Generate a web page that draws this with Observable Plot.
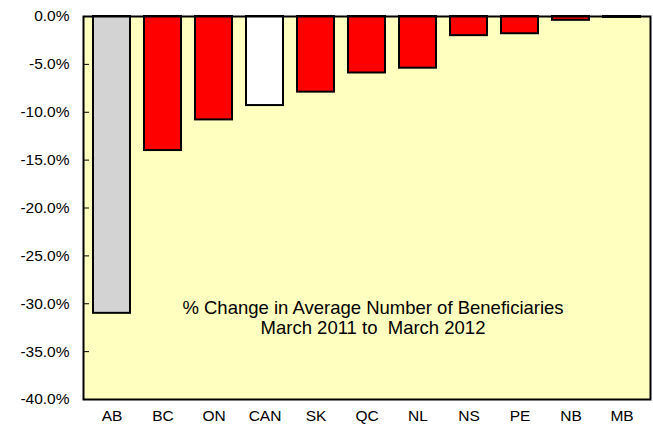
<!DOCTYPE html>
<html>
<head>
<meta charset="utf-8">
<script src="https://cdn.jsdelivr.net/npm/d3@7"></script>
<script src="https://cdn.jsdelivr.net/npm/@observablehq/plot@0.6"></script>
<style>
  html, body { margin: 0; padding: 0; background: #ffffff; }
  svg text { white-space: pre; }
</style>
</head>
<body>
<div id="chart"></div>
<script>
const provinces = ["AB", "BC", "ON", "CAN", "SK", "QC", "NL", "NS", "PE", "NB", "MB"];
const changes = [-31.0, -14.0, -10.8, -9.3, -7.9, -5.9, -5.4, -2.0, -1.8, -0.4, -0.1];
const barColors = ["#D3D3D3", "#FF0000", "#FF0000", "#FFFFFF", "#FF0000", "#FF0000", "#FF0000", "#FF0000", "#FF0000", "#FF0000", "#FF0000"];
const yTicks = [0, -5, -10, -15, -20, -25, -30, -35, -40];
const annotationLines = ["% Change in Average Number of Beneficiaries", "March 2011 to  March 2012"];

const data = provinces.map((p, i) => ({province: p, change: changes[i], color: barColors[i]}));

const W = 653, H = 428;
const mL = 83, mR = 3, mT = 16, mB = 29;

const chart = Plot.plot({
  width: W,
  height: H,
  marginLeft: mL,
  marginRight: mR,
  marginTop: mT,
  marginBottom: mB,
  style: {fontFamily: "'Liberation Sans', Arial, sans-serif", fontSize: "15.5px", color: "#000", background: "#ffffff"},
  x: {domain: provinces, paddingInner: 0.28, paddingOuter: 0.14, label: null},
  y: {domain: [-40, 0], label: null},
  marks: [
    Plot.frame({fill: "#FFFFC0", stroke: null}),
    Plot.ruleY(yTicks, {y: d => d, stroke: "#000", strokeWidth: 1, insetRight: W - mL - mR - 6}),
    Plot.barY(data, {x: "province", y: "change", fill: "color", stroke: "#000", strokeWidth: 2}),
    Plot.text([annotationLines.join("\n")], {text: d => d, frameAnchor: "middle", dx: 6, dy: 110, fontSize: 18.5, lineHeight: 1.06, fill: "#000"}),
    Plot.frame({stroke: "#000", strokeWidth: 2}),
    Plot.axisY({ticks: yTicks, tickSize: 0, tickPadding: 14, tickFormat: d => d.toFixed(1) + "%"}),
    Plot.axisX({tickSize: 0, tickPadding: 10})
  ]
});

document.getElementById("chart").appendChild(chart);
</script>
</body>
</html>
